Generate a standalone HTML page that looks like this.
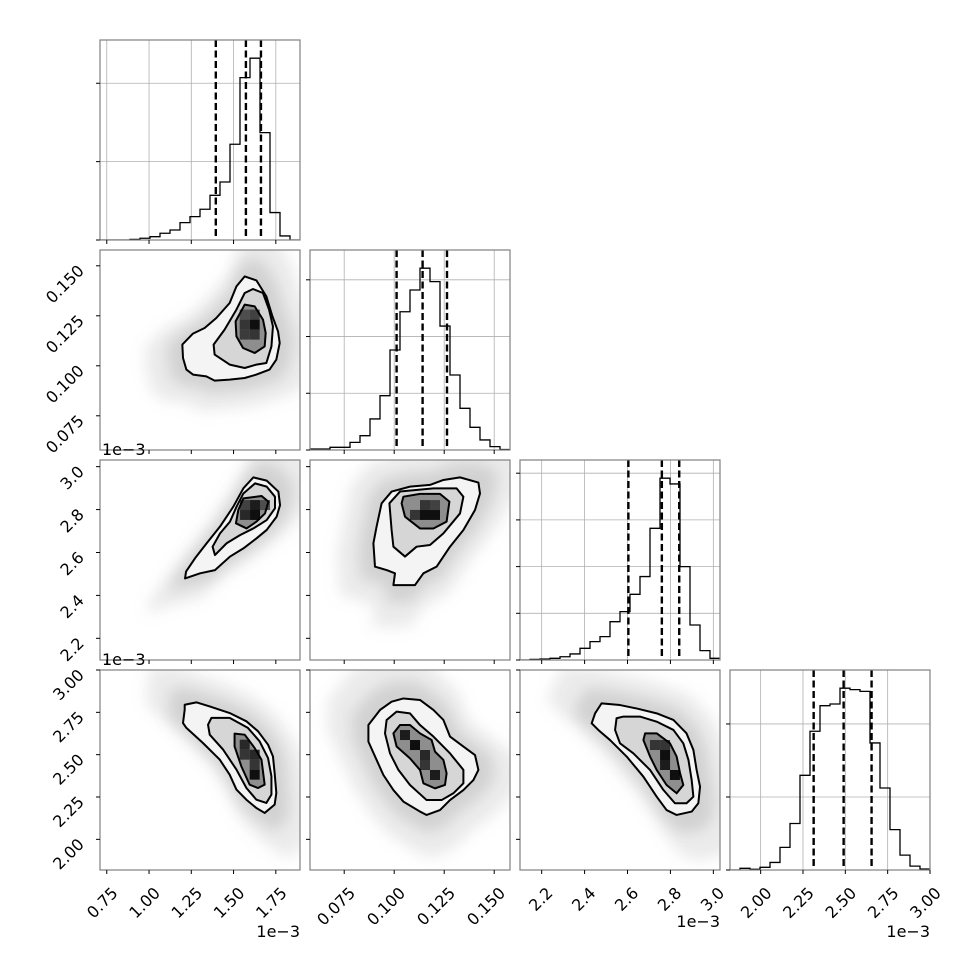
<!DOCTYPE html>
<html><head><meta charset="utf-8">
<style>
html,body{margin:0;padding:0;background:#fff;}
svg{display:block;font-family:"DejaVu Sans","Liberation Sans",sans-serif;}
</style></head>
<body>
<svg id="fig" width="970" height="970" viewBox="0 0 970 970" xmlns="http://www.w3.org/2000/svg">
<defs>
<filter id="blur" x="-50%" y="-50%" width="200%" height="200%"><feGaussianBlur stdDeviation="7"/></filter>
</defs>
<rect width="970" height="970" fill="#fff"/>
</svg>
<script>
// ---------- axis ranges & ticks ----------
const rangeA = [0.710, 1.893];
const rangeB = [0.0579, 0.1579];
const rangeC = [2.099, 3.031];
const rangeD = [1.819, 3.000];
const ticksA = [0.75, 1.00, 1.25, 1.50, 1.75];
const ticksB = [0.075, 0.100, 0.125, 0.150];
const ticksC = [2.2, 2.4, 2.6, 2.8, 3.0];
const ticksD = [2.00, 2.25, 2.50, 2.75, 3.00];
const labelsA = ["0.75","1.00","1.25","1.50","1.75"];
const labelsB = ["0.075","0.100","0.125","0.150"];
const labelsC = ["2.2","2.4","2.6","2.8","3.0"];
const labelsD = ["2.00","2.25","2.50","2.75","3.00"];
// ---------- 1D histograms (20 bins over range) ----------
const histA = [0,0,0,4,11,21,43,64,111,149,196,285,370,611,1036,1160,685,175,26,0];
const histB = [7,7,19,19,54,101,219,383,705,975,1128,1282,1187,874,529,294,160,71,24,3];
const histC = [0,4,6,11,21,39,75,118,150,246,311,422,536,846,1168,1131,600,225,60,11];
const histD = [0,7,3,11,31,93,191,389,570,675,682,747,741,734,522,337,166,61,16,4];
const countTicksA = [0,500,1000];
const countTicksB = [0,400,800,1200];
const countTicksC = [0,300,600,900,1200];
const countTicksD = [0,300,600];
const quantA = [1.395,1.573,1.662];
const quantB = [0.1012,0.1142,0.1264];
const quantC = [2.604,2.760,2.841];
const quantD = [2.313,2.490,2.655];
// ---------- 2D contours (data coords) ----------
const contBA_outer = [[1.566,.1447],[1.635,.1427],[1.694,.1347],[1.730,.1247],[1.763,.1172],[1.773,.1114],[1.753,.1031],[1.713,.0981],[1.635,.0956],[1.566,.0939],[1.477,.0931],[1.388,.0926],[1.339,.0947],[1.260,.0956],[1.221,.0981],[1.201,.1039],[1.197,.1106],[1.260,.1161],[1.329,.1189],[1.398,.1239],[1.477,.1314],[1.517,.1397]];
const contBA_mid = [[1.615,.1384],[1.674,.1364],[1.710,.1281],[1.733,.1197],[1.724,.1097],[1.694,.1014],[1.635,.1006],[1.566,.0989],[1.477,.1006],[1.388,.1056],[1.382,.1106],[1.447,.1181],[1.517,.1281],[1.566,.1364]];
const contBA_in = [[1.566,.1306],[1.625,.1297],[1.674,.1231],[1.690,.1164],[1.684,.1097],[1.625,.1064],[1.556,.1089],[1.517,.1147],[1.512,.1222]];
const cellsBA = [[1.625,.1206,1],[1.566,.1206,.7],[1.625,.1256,.6],[1.566,.1156,.65],[1.625,.1156,.7],[1.566,.1256,.5]];

const contCA_outer = [[1.617,2.950],[1.696,2.935],[1.765,2.884],[1.775,2.821],[1.755,2.767],[1.696,2.705],[1.636,2.666],[1.558,2.619],[1.479,2.581],[1.390,2.518],[1.302,2.503],[1.213,2.479],[1.219,2.511],[1.272,2.573],[1.341,2.643],[1.420,2.721],[1.499,2.814],[1.558,2.899]];
const contCA_mid = [[1.627,2.922],[1.696,2.907],[1.745,2.860],[1.745,2.806],[1.696,2.751],[1.617,2.712],[1.538,2.681],[1.459,2.643],[1.390,2.588],[1.376,2.627],[1.420,2.689],[1.479,2.744],[1.518,2.814],[1.558,2.875]];
const contCA_in = [[1.558,2.852],[1.666,2.863],[1.706,2.837],[1.686,2.782],[1.636,2.744],[1.577,2.712],[1.514,2.736],[1.528,2.798]];
const cellsCA = [[1.627,2.821,.9],[1.627,2.775,1],[1.568,2.775,.8],[1.568,2.821,.6],[1.686,2.821,.5]];

const contCB_outer = [[.1246,2.938],[.1329,2.950],[.1421,2.926],[.1429,2.875],[.1404,2.798],[.1346,2.705],[.1279,2.627],[.1212,2.534],[.1146,2.503],[.1104,2.448],[.0996,2.448],[.1004,2.503],[.0962,2.518],[.0904,2.534],[.0896,2.643],[.0912,2.721],[.0937,2.829],[.0987,2.884],[.1079,2.907],[.1179,2.915]];
const contCB_mid = [[.1029,2.884],[.1196,2.899],[.1312,2.899],[.1346,2.860],[.1329,2.782],[.1246,2.689],[.1179,2.635],[.1112,2.627],[.1054,2.581],[.0996,2.627],[.0987,2.705],[.0976,2.829]];
const contCB_in = [[.1046,2.860],[.1129,2.873],[.1229,2.873],[.1276,2.837],[.1262,2.744],[.1196,2.712],[.1129,2.712],[.1054,2.767],[.1037,2.829]];
const cellsCB = [[.1154,2.775,1],[.1204,2.775,1],[.1154,2.821,.7],[.1104,2.775,.7],[.1204,2.821,.6]];

const contDA_outer = [[1.211,2.795],[1.280,2.809],[1.359,2.785],[1.477,2.746],[1.576,2.697],[1.645,2.638],[1.704,2.559],[1.733,2.490],[1.743,2.392],[1.753,2.274],[1.743,2.205],[1.684,2.156],[1.635,2.185],[1.576,2.234],[1.517,2.294],[1.477,2.382],[1.418,2.471],[1.319,2.569],[1.221,2.658],[1.201,2.687],[1.211,2.766]];
const contDA_mid = [[1.369,2.717],[1.477,2.717],[1.585,2.658],[1.654,2.579],[1.704,2.480],[1.724,2.372],[1.724,2.264],[1.694,2.215],[1.635,2.234],[1.576,2.303],[1.517,2.412],[1.438,2.530],[1.359,2.618],[1.349,2.677]];
const contDA_in = [[1.506,2.624],[1.566,2.618],[1.625,2.539],[1.665,2.471],[1.684,2.323],[1.645,2.303],[1.595,2.323],[1.546,2.431],[1.506,2.549]];
const cellsDA = [[1.566,2.559,.8],[1.625,2.500,.8],[1.625,2.382,1],[1.625,2.441,.7],[1.566,2.500,.7]];

const contDB_outer = [[.1046,2.832],[.1129,2.823],[.1196,2.764],[.1246,2.705],[.1279,2.607],[.1346,2.548],[.1404,2.498],[.1421,2.410],[.1396,2.350],[.1346,2.291],[.1279,2.232],[.1229,2.173],[.1162,2.144],[.1129,2.164],[.1046,2.223],[.0996,2.291],[.0946,2.380],[.0912,2.469],[.0871,2.577],[.0871,2.675],[.0929,2.764],[.0987,2.813]];
const contDB_mid = [[.1012,2.754],[.1079,2.744],[.1129,2.675],[.1196,2.607],[.1279,2.508],[.1346,2.410],[.1346,2.331],[.1296,2.272],[.1237,2.232],[.1162,2.232],[.1079,2.321],[.1021,2.410],[.0979,2.508],[.0954,2.626],[.0962,2.705]];
const contDB_in = [[.1029,2.675],[.1079,2.675],[.1129,2.626],[.1187,2.587],[.1204,2.518],[.1246,2.469],[.1262,2.390],[.1254,2.321],[.1204,2.301],[.1146,2.331],[.1129,2.410],[.1079,2.478],[.1012,2.548],[.0996,2.626]];
const cellsDB = [[.1054,2.616,.9],[.1104,2.557,1],[.1154,2.498,.8],[.1204,2.380,.9],[.1154,2.439,.7]];

const contDC_outer = [[2.479,2.803],[2.565,2.793],[2.642,2.773],[2.736,2.744],[2.814,2.705],[2.875,2.626],[2.907,2.528],[2.922,2.410],[2.938,2.311],[2.930,2.213],[2.899,2.164],[2.829,2.144],[2.782,2.173],[2.736,2.252],[2.674,2.370],[2.596,2.489],[2.518,2.587],[2.464,2.646],[2.433,2.685],[2.449,2.744]];
const contDC_mid = [[2.581,2.725],[2.658,2.725],[2.736,2.695],[2.814,2.646],[2.860,2.567],[2.884,2.469],[2.899,2.350],[2.907,2.252],[2.875,2.213],[2.821,2.213],[2.767,2.292],[2.705,2.410],[2.627,2.508],[2.565,2.567],[2.542,2.646],[2.549,2.715]];
const contDC_in = [[2.682,2.626],[2.736,2.626],[2.798,2.567],[2.829,2.489],[2.845,2.390],[2.860,2.321],[2.829,2.272],[2.782,2.321],[2.736,2.410],[2.705,2.489],[2.674,2.587]];
const cellsDC = [[2.775,2.498,1],[2.775,2.439,.9],[2.821,2.380,1],[2.728,2.557,.7],[2.775,2.557,.7]];

// ---------- drawing ----------
const NS = "http://www.w3.org/2000/svg";
const svg = document.getElementById("fig");
const P = 200, X0 = 100, Y0 = 40, STEP = 210;
function mk(tag, attrs, parent){ const e=document.createElementNS(NS,tag); for(const k in attrs) e.setAttribute(k,attrs[k]); (parent||svg).appendChild(e); return e; }
function sx(range, col){ return v => X0+STEP*col + (v-range[0])/(range[1]-range[0])*P; }
function sy(range, row){ return v => Y0+STEP*row + P - (v-range[0])/(range[1]-range[0])*P; }
const ranges=[rangeA,rangeB,rangeC,rangeD];
const ticks=[ticksA,ticksB,ticksC,ticksD];
const labels=[labelsA,labelsB,labelsC,labelsD];
const hists=[histA,histB,histC,histD];
const cticks=[countTicksA,countTicksB,countTicksC,countTicksD];
const quants=[quantA,quantB,quantC,quantD];

let clipId=0;
function panelClip(col,row){
  const id="clip"+(clipId++);
  const cp=mk("clipPath",{id:id});
  mk("rect",{x:X0+STEP*col,y:Y0+STEP*row,width:P,height:P},cp);
  return "url(#"+id+")";
}
function frame(col,row,name){
  const r=mk("rect",{x:X0+STEP*col,y:Y0+STEP*row,width:P,height:P,fill:"none",stroke:"#808080","stroke-width":1.2});
  
  
}
function xTicks(col,row){
  const f=sx(ranges[col],col), yb=Y0+STEP*row+P;
  ticks[col].forEach(t=>{ const x=f(t); const l=mk("line",{x1:x,x2:x,y1:yb,y2:yb+4,stroke:"#000","stroke-width":1});
      });
}
function yTicksData(rowParam,row,col){
  const f=sy(ranges[rowParam],row), xl=X0+STEP*col;
  ticks[rowParam].forEach(t=>{ const y=f(t); const l=mk("line",{x1:xl-4,x2:xl,y1:y,y2:y,stroke:"#000","stroke-width":1});
      });
}

// diagonal histograms
for(let i=0;i<4;i++){
  const g=mk("g",{"clip-path":panelClip(i,i)});
  
  
  const fx=sx(ranges[i],i);
  const h=hists[i], ymax=1.1*Math.max(...h);
  const fy=sy([0,ymax],i);
  const top=Y0+STEP*i;
  ticks[i].forEach(t=>{const x=fx(t); const gl=mk("line",{x1:x,x2:x,y1:top,y2:top+P,stroke:"#b0b0b0","stroke-width":0.8},g);
     });
  cticks[i].forEach(t=>{const y=fy(t); const gl=mk("line",{x1:X0+STEP*i,x2:X0+STEP*i+P,y1:y,y2:y,stroke:"#b0b0b0","stroke-width":0.8},g);
     });
  const w=(ranges[i][1]-ranges[i][0])/h.length;
  let d="M"+fx(ranges[i][0])+","+fy(0);
  h.forEach((c,k)=>{ const x0=fx(ranges[i][0]+k*w), x1=fx(ranges[i][0]+(k+1)*w); d+=" L"+x0+","+fy(c)+" L"+x1+","+fy(c); });
  const p=mk("path",{d:d,fill:"none",stroke:"#000","stroke-width":1.3},g);
  
  
  quants[i].forEach(q=>{const x=fx(q); const ql=mk("line",{x1:x,x2:x,y1:top,y2:top+P,stroke:"#000","stroke-width":2.4,"stroke-dasharray":"7,3.5"},g);
     });
  frame(i,i,'histogram-'+i);
  xTicks(i,i);
  const xl=X0+STEP*i;
  cticks[i].forEach(t=>{const y=fy(t); const l=mk("line",{x1:xl-4,x2:xl,y1:y,y2:y,stroke:"#000","stroke-width":1});
     });
}

// 2D panels
const panels=[
 {col:0,row:1,c:[contBA_outer,contBA_mid,contBA_in],cells:cellsBA},
 {col:0,row:2,c:[contCA_outer,contCA_mid,contCA_in],cells:cellsCA},
 {col:1,row:2,c:[contCB_outer,contCB_mid,contCB_in],cells:cellsCB},
 {col:0,row:3,c:[contDA_outer,contDA_mid,contDA_in],cells:cellsDA},
 {col:1,row:3,c:[contDB_outer,contDB_mid,contDB_in],cells:cellsDB},
 {col:2,row:3,c:[contDC_outer,contDC_mid,contDC_in],cells:cellsDC}
];
panels.forEach(pn=>{
  const fx=sx(ranges[pn.col],pn.col), fy=sy(ranges[pn.row],pn.row);
  const g=mk("g",{"clip-path":panelClip(pn.col,pn.row)});
  
  
  const pts=c=>c.map(p=>[fx(p[0]),fy(p[1])]);
  const outer=pts(pn.c[0]);
  const cx=outer.reduce((s,p)=>s+p[0],0)/outer.length, cy=outer.reduce((s,p)=>s+p[1],0)/outer.length;
  const halo=outer.map(p=>[cx+(p[0]-cx)*1.75, cy+(p[1]-cy)*1.75]);
  const hp=mk("polygon",{points:halo.map(p=>p.join(",")).join(" "),fill:"#aaa","fill-opacity":0.24,filter:"url(#blur)"},g);
   
  const halo2=outer.map(p=>[cx+(p[0]-cx)*1.3, cy+(p[1]-cy)*1.3]);
  const hp2=mk("polygon",{points:halo2.map(p=>p.join(",")).join(" "),fill:"#999","fill-opacity":0.3,filter:"url(#blur)"},g);
   
  const fills=["#f4f4f4","#d6d6d6","#8e8e8e"];
  pn.c.forEach((c,k)=>{ const fp=mk("polygon",{points:pts(c).map(p=>p.join(",")).join(" "),fill:fills[k]},g);
      });
  const cw=(ranges[pn.col][1]-ranges[pn.col][0])/20, ch=(ranges[pn.row][1]-ranges[pn.row][0])/20;
  pn.cells.forEach(cl=>{ const x0=fx(cl[0]-cw/2), x1=fx(cl[0]+cw/2), y0=fy(cl[1]+ch/2), y1=fy(cl[1]-ch/2);
    const gv=Math.round(140-125*cl[2]);
    const r=mk("rect",{x:x0,y:y0,width:x1-x0,height:y1-y0,fill:"rgb("+gv+","+gv+","+gv+")"},g);
      });
  pn.c.forEach((c,k)=>{ const cp=mk("polygon",{points:pts(c).map(p=>p.join(",")).join(" "),fill:"none",stroke:"#000","stroke-width":2,"stroke-linejoin":"round"},g);
      });
  frame(pn.col,pn.row,'density-panel');
  xTicks(pn.col,pn.row);
  yTicksData(pn.row,pn.row,pn.col);
});

function txt(s,attrs,name){ const t=mk("text",attrs); t.textContent=s;   return t; }
for(let c=0;c<4;c++){
  const f=sx(ranges[c],c);
  ticks[c].forEach((t,k)=>{ const x=f(t)+12, y=894;
    txt(labels[c][k],{x:x,y:y,"font-size":16,"text-anchor":"end",transform:"rotate(-45 "+x+" "+y+")"},'x-tick-label'); });
}
for(let r=1;r<4;r++){
  const f=sy(ranges[r],r);
  ticks[r].forEach((t,k)=>{ const x=85, y=f(t)+6;
    txt(labels[r][k],{x:x,y:y,"font-size":16,"text-anchor":"end",transform:"rotate(-45 "+x+" "+y+")"},'y-tick-label'); });
}
txt("1e\u22123",{x:300,y:937,"font-size":16,"text-anchor":"end"},'x-offset-label-a');
txt("1e\u22123",{x:720,y:927,"font-size":16,"text-anchor":"end"},'x-offset-label-c');
txt("1e\u22123",{x:930,y:937,"font-size":16,"text-anchor":"end"},'x-offset-label-d');
txt("1e\u22123",{x:102,y:455,"font-size":16},'y-offset-label-c');
txt("1e\u22123",{x:102,y:665,"font-size":16},'y-offset-label-d');
</script>
</body></html>
